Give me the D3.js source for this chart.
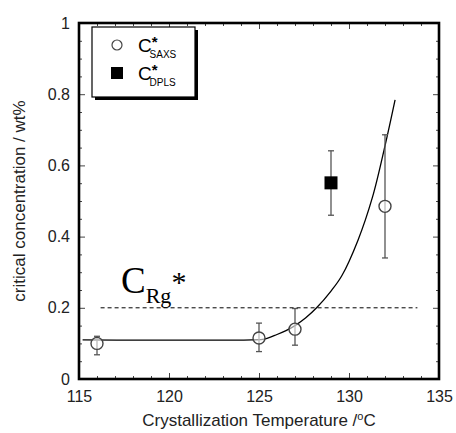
<!DOCTYPE html>
<html>
<head>
<meta charset="utf-8">
<script src="https://cdn.jsdelivr.net/npm/d3@7"></script>
<style>
  body { margin: 0; background: #fff; }
  svg { display: block; }
</style>
</head>
<body>
<div id="chart"></div>
<script>
// values
const xTicks = [115, 120, 125, 130, 135];
const yTicks = [0, 0.2, 0.4, 0.6, 0.8, 1];
const yTickLabels = ['0', '0.2', '0.4', '0.6', '0.8', '1'];

// C*_SAXS (open circles) with error bars
const saxsTemp = [116, 125, 127, 132];
const saxsConc = [0.10, 0.115, 0.14, 0.485];
const saxsLow = [0.068, 0.077, 0.095, 0.34];
const saxsHigh = [0.12, 0.157, 0.198, 0.686];

// C*_DPLS (filled square)
const dplsTemp = [129];
const dplsConc = [0.551];
const dplsLow = [0.46];
const dplsHigh = [0.641];

// guide curve drawn through the points
const fitTemp = [115.2, 124.6, 125.3, 126, 126.5, 127, 127.6, 128.2, 129, 129.6, 130.5, 131.3, 132, 132.56];
const fitConc = [0.11, 0.11, 0.112, 0.125, 0.136, 0.15, 0.172, 0.2, 0.247, 0.29, 0.39, 0.51, 0.655, 0.784];

// C_Rg* level
const critConc = 0.2;
const critRange = [116.2, 133.8];

const width = 456, height = 433;
const margin = { top: 23, right: 17, bottom: 54, left: 79 };

const svg = d3.select('#chart')
    .append('svg')
    .attr('width', width)
    .attr('height', height);

svg.append('rect').attr('width', width).attr('height', height).attr('fill', '#fff');

const x = d3.scaleLinear().domain([115, 135]).range([margin.left, width - margin.right]);
const y = d3.scaleLinear().domain([0, 1]).range([height - margin.bottom, margin.top]);

const x0 = x.range()[0], x1 = x.range()[1], y0 = y.range()[0], y1 = y.range()[1];

const minorX = d3.range(115, 136, 1).filter(v => v % 5 !== 0);
const minorY = d3.range(0, 21).map(i => i * 0.05).filter((v, i) => i % 4 !== 0);

// axes, ticks pointing inward on all four sides
function styleAxis(g) {
    g.select('.domain').remove();
    g.selectAll('.tick line').attr('stroke', '#444').attr('stroke-width', 1);
    g.selectAll('.tick text')
        .attr('fill', '#222')
        .style('font-family', 'Liberation Sans, Arial, sans-serif')
        .style('font-size', '16px');
}

svg.append('g').attr('transform', `translate(0,${y0})`)
    .call(d3.axisBottom(x).tickValues(xTicks).tickFormat(d3.format('d')).tickSize(-6).tickPadding(12))
    .call(styleAxis);
svg.append('g').attr('transform', `translate(0,${y0})`)
    .call(d3.axisBottom(x).tickValues(minorX).tickFormat('').tickSize(-3))
    .call(styleAxis);
svg.append('g').attr('transform', `translate(0,${y1})`)
    .call(d3.axisTop(x).tickValues(xTicks).tickFormat('').tickSize(-6))
    .call(styleAxis);
svg.append('g').attr('transform', `translate(0,${y1})`)
    .call(d3.axisTop(x).tickValues(minorX).tickFormat('').tickSize(-3))
    .call(styleAxis);

svg.append('g').attr('transform', `translate(${x0},0)`)
    .call(d3.axisLeft(y).tickValues(yTicks).tickFormat((d, i) => yTickLabels[i]).tickSize(-6).tickPadding(9))
    .call(styleAxis);
svg.append('g').attr('transform', `translate(${x0},0)`)
    .call(d3.axisLeft(y).tickValues(minorY).tickFormat('').tickSize(-3))
    .call(styleAxis);
svg.append('g').attr('transform', `translate(${x1},0)`)
    .call(d3.axisRight(y).tickValues(yTicks).tickFormat('').tickSize(-6))
    .call(styleAxis);
svg.append('g').attr('transform', `translate(${x1},0)`)
    .call(d3.axisRight(y).tickValues(minorY).tickFormat('').tickSize(-3))
    .call(styleAxis);

// frame
svg.append('rect')
    .attr('x', x0).attr('y', y1)
    .attr('width', x1 - x0).attr('height', y0 - y1)
    .attr('fill', 'none')
    .attr('stroke', '#000')
    .attr('stroke-width', 2.6);

// dashed C_Rg* line
svg.append('line')
    .attr('x1', x(critRange[0])).attr('x2', x(critRange[1]))
    .attr('y1', y(critConc)).attr('y2', y(critConc))
    .attr('stroke', '#000')
    .attr('stroke-width', 1)
    .attr('stroke-dasharray', '4,3');

// guide curve
const fitData = fitTemp.map((t, i) => [t, fitConc[i]]);
svg.append('path')
    .datum(fitData)
    .attr('fill', 'none')
    .attr('stroke', '#000')
    .attr('stroke-width', 1.3)
    .attr('d', d3.line().x(d => x(d[0])).y(d => y(d[1])).curve(d3.curveCatmullRom.alpha(0.5)));

// error bars
function errorBars(temps, lows, highs) {
    const g = svg.append('g').attr('stroke', '#555').attr('stroke-width', 1.3);
    temps.forEach((t, i) => {
        g.append('line').attr('x1', x(t)).attr('x2', x(t)).attr('y1', y(lows[i])).attr('y2', y(highs[i]));
        g.append('line').attr('x1', x(t) - 3).attr('x2', x(t) + 3).attr('y1', y(lows[i])).attr('y2', y(lows[i]));
        g.append('line').attr('x1', x(t) - 3).attr('x2', x(t) + 3).attr('y1', y(highs[i])).attr('y2', y(highs[i]));
    });
}
errorBars(saxsTemp, saxsLow, saxsHigh);
errorBars(dplsTemp, dplsLow, dplsHigh);

svg.append('g')
    .selectAll('circle')
    .data(saxsTemp)
    .join('circle')
    .attr('cx', d => x(d))
    .attr('cy', (d, i) => y(saxsConc[i]))
    .attr('r', 6)
    .attr('fill', '#fff')
    .attr('fill-opacity', 0.6)
    .attr('stroke', '#444')
    .attr('stroke-width', 1.4);

svg.append('g')
    .selectAll('rect')
    .data(dplsTemp)
    .join('rect')
    .attr('x', d => x(d) - 6.5)
    .attr('y', (d, i) => y(dplsConc[i]) - 6.5)
    .attr('width', 13)
    .attr('height', 13)
    .attr('fill', '#000');

// C_Rg* label
const crg = svg.append('text')
    .attr('x', 121)
    .attr('y', 293)
    .style('font-family', 'Liberation Serif, Times New Roman, serif')
    .style('font-size', '37px')
    .attr('fill', '#000');
crg.append('tspan').text('C');
crg.append('tspan').attr('dy', 10).style('font-size', '22px').text('Rg');
crg.append('tspan').attr('dy', -11).attr('dx', 0).style('font-size', '30px').text('*');

// legend with drop shadow
const lg = svg.append('g').attr('transform', 'translate(92,27)');
lg.append('rect').attr('x', 3).attr('y', 3).attr('width', 103).attr('height', 70).attr('fill', '#000');
lg.append('rect').attr('width', 103).attr('height', 70).attr('fill', '#fff').attr('stroke', '#000').attr('stroke-width', 1.2);
lg.append('circle').attr('cx', 25).attr('cy', 18).attr('r', 5).attr('fill', '#fff').attr('stroke', '#444').attr('stroke-width', 1.2);
lg.append('rect').attr('x', 19).attr('y', 40).attr('width', 12).attr('height', 12).attr('fill', '#000');

const legendItems = [['SAXS', 25], ['DPLS', 53]];
legendItems.forEach(([sub, by]) => {
    const t = lg.append('text')
        .attr('x', 46)
        .attr('y', by)
        .style('font-family', 'Liberation Sans, Arial, sans-serif')
        .style('font-size', '19px')
        .attr('fill', '#000');
    t.append('tspan').text('C');
    t.append('tspan').attr('dy', -5).style('font-size', '15px').style('font-weight', 'bold').text('*');
    t.append('tspan').attr('dy', 11).attr('dx', -8).style('font-size', '10px').text(sub);
});

// axis titles
svg.append('text')
    .attr('x', (x0 + x1) / 2)
    .attr('y', 426)
    .attr('text-anchor', 'middle')
    .style('font-family', 'Liberation Sans, Arial, sans-serif')
    .style('font-size', '17px')
    .attr('fill', '#222')
    .call(t => {
        t.append('tspan').text('Crystallization Temperature /');
        t.append('tspan').attr('dy', -6).style('font-size', '11px').text('o');
        t.append('tspan').attr('dy', 6).text('C');
    });

svg.append('text')
    .attr('transform', `translate(25,${(y0 + y1) / 2}) rotate(-90)`)
    .attr('text-anchor', 'middle')
    .style('font-family', 'Liberation Sans, Arial, sans-serif')
    .style('font-size', '17px')
    .attr('fill', '#222')
    .text('critical concentration / wt%');
</script>
</body>
</html>
